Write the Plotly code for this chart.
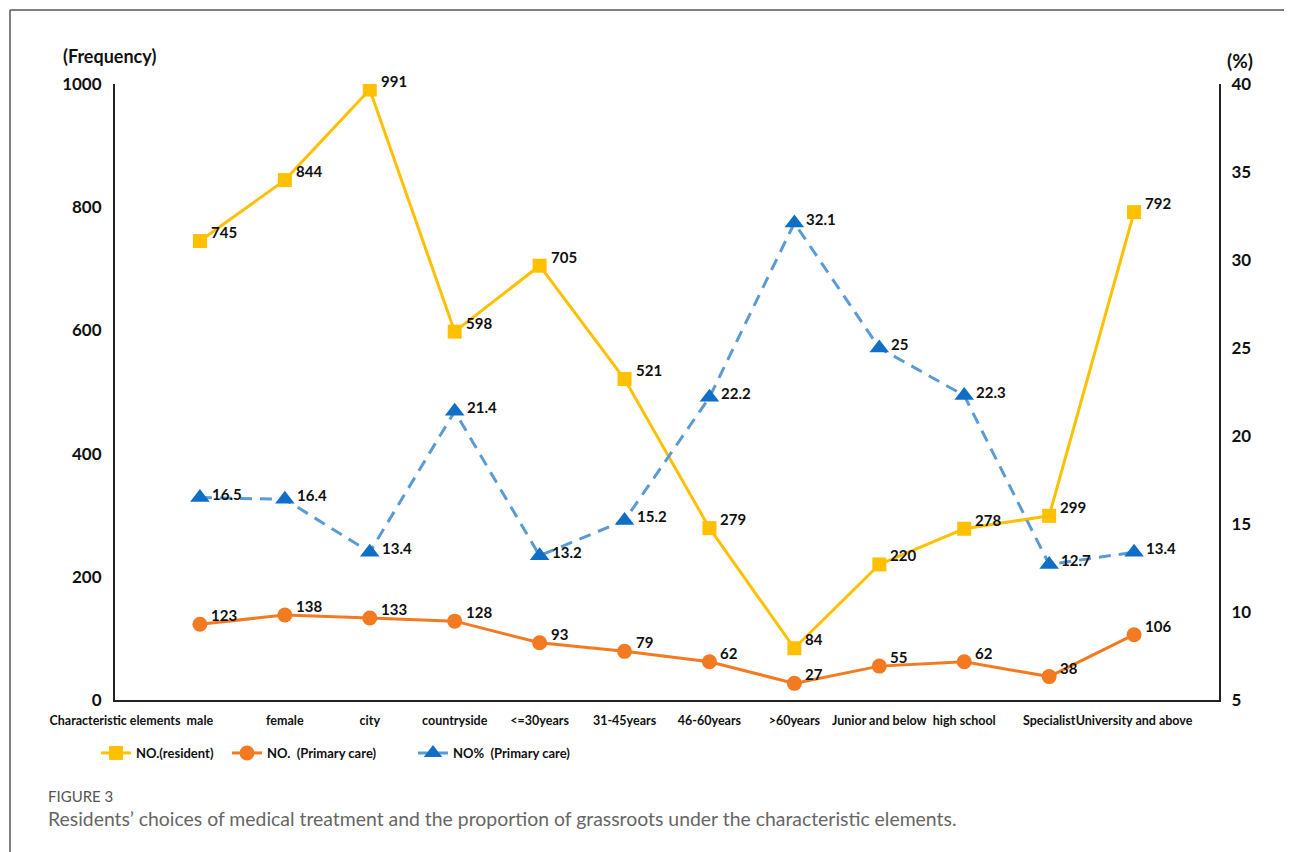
import plotly.graph_objects as go

categories = ["Characteristic elements", "male", "female", "city", "countryside", "<=30years",
              "31-45years", "46-60years", ">60years", "Junior and below", "high school",
              "Specialist", "University and above"]
data_categories = categories[1:]
resident = [745, 844, 991, 598, 705, 521, 279, 84, 220, 278, 299, 792]
primary = [123, 138, 133, 128, 93, 79, 62, 27, 55, 62, 38, 106]
percent = [16.5, 16.4, 13.4, 21.4, 13.2, 15.2, 22.2, 32.1, 25, 22.3, 12.7, 13.4]
left_ticks = [0, 200, 400, 600, 800, 1000]
right_ticks = [5, 10, 15, 20, 25, 30, 35, 40]

# page body has an 8px margin; figure is placed at (8, 8)
OFF = 8
W, H = 1292 - OFF, 852 - OFF
L, R, T, B = 115, 1219, 84, 700  # plot area in screen pixels

def px_x(p):
    return (p - L) / (R - L)

def px_y(p):
    return (B - p) / (B - T)

YELLOW = "#FFC000"
ORANGE = "#F47A22"
BLUE_LINE = "#5B9BD5"
BLUE_MARK = "#0F6FC6"
FONT = "Lato"

fig = go.Figure()
fig.add_trace(go.Scatter(
    x=data_categories, y=resident, name="NO.(resident)", mode="lines+markers",
    line=dict(color=YELLOW, width=3), marker=dict(symbol="square", size=14, color=YELLOW),
    legend="legend"))
fig.add_trace(go.Scatter(
    x=data_categories, y=primary, name="NO.  (Primary care)", mode="lines+markers",
    line=dict(color=ORANGE, width=3), marker=dict(symbol="circle", size=15, color=ORANGE),
    legend="legend2"))
fig.add_trace(go.Scatter(
    x=data_categories, y=percent, name="NO%  (Primary care)", mode="lines+markers", yaxis="y2",
    line=dict(color=BLUE_LINE, width=3, dash="12px,8px"),
    marker=dict(symbol="triangle-up", size=17, color=BLUE_MARK),
    legend="legend3"))

ann = []
def fmt(v):
    return f"{v:g}"
for cat, v in zip(data_categories, resident):
    ann.append(dict(x=cat, y=v, xref="x", yref="y", text=fmt(v), showarrow=False,
                    xanchor="left", yanchor="middle", xshift=9, yshift=9,
                    font=dict(family=FONT, size=15, color="#111", weight="bold")))
for cat, v in zip(data_categories, primary):
    ann.append(dict(x=cat, y=v, xref="x", yref="y", text=fmt(v), showarrow=False,
                    xanchor="left", yanchor="middle", xshift=9, yshift=9,
                    font=dict(family=FONT, size=15, color="#111", weight="bold")))
for cat, v in zip(data_categories, percent):
    ann.append(dict(x=cat, y=v, xref="x", yref="y2", text=fmt(v), showarrow=False,
                    xanchor="left", yanchor="middle", xshift=10, yshift=4,
                    font=dict(family=FONT, size=15, color="#111", weight="bold")))

ann.append(dict(x=px_x(109), y=px_y(56), xref="paper", yref="paper", text="(Frequency)",
                showarrow=False, xanchor="center", yanchor="middle",
                font=dict(family=FONT, size=18, color="#111", weight="bold")))
ann.append(dict(x=px_x(1240), y=px_y(61), xref="paper", yref="paper", text="(%)",
                showarrow=False, xanchor="center", yanchor="middle",
                font=dict(family=FONT, size=19, color="#111", weight="bold")))
ann.append(dict(x=px_x(46), y=px_y(796), xref="paper", yref="paper", text="FIGURE 3",
                showarrow=False, xanchor="left", yanchor="middle",
                font=dict(family=FONT, size=15, color="#555")))
ann.append(dict(x=px_x(46), y=px_y(818), xref="paper", yref="paper",
                text="Residents’ choices of medical treatment and the proportion of grassroots under the characteristic elements.",
                showarrow=False, xanchor="left", yanchor="middle",
                font=dict(family=FONT, size=19.4, color="#666")))

shapes = [
    dict(type="line", xref="paper", yref="paper", x0=px_x(10), x1=px_x(10), y0=px_y(10), y1=px_y(860),
         line=dict(color="#555", width=1.5)),
    dict(type="line", xref="paper", yref="paper", x0=px_x(10), x1=px_x(1300), y0=px_y(10), y1=px_y(10),
         line=dict(color="#555", width=1.5)),
]

legend_common = dict(orientation="h", yanchor="middle", y=px_y(753), xanchor="left",
                     bgcolor="rgba(0,0,0,0)", font=dict(family=FONT, size=13, color="#111", weight="bold"),
                     itemwidth=30)

fig.update_layout(
    width=W, height=H,
    paper_bgcolor="white", plot_bgcolor="white",
    margin=dict(l=L - OFF, r=W - (R - OFF), t=T - OFF, b=H - (B - OFF), autoexpand=False),
    font=dict(family=FONT, color="#111"),
    xaxis=dict(type="category", categoryorder="array", categoryarray=categories,
               tickvals=categories, range=[0, 13], showgrid=False, zeroline=False,
               showline=True, linecolor="#222", linewidth=2, ticks="", tickangle=0,
               ticklabelstandoff=8,
               tickfont=dict(family=FONT, size=12.5, color="#111", weight="bold")),
    yaxis=dict(range=[0, 1000], tickvals=left_ticks, showgrid=False, zeroline=False,
               showline=True, linecolor="#222", linewidth=2, ticks="", ticklabelstandoff=8,
               tickfont=dict(family=FONT, size=17, color="#111", weight="bold")),
    yaxis2=dict(range=[5, 40], tickvals=right_ticks, overlaying="y", side="right",
                showgrid=False, zeroline=False, showline=True, linecolor="#222", linewidth=2,
                ticks="", ticklabelstandoff=7,
                tickfont=dict(family=FONT, size=17, color="#111", weight="bold")),
    legend=dict(**legend_common, x=px_x(96)),
    legend2=dict(**legend_common, x=px_x(227)),
    legend3=dict(**legend_common, x=px_x(413)),
    annotations=ann,
    shapes=shapes,
    showlegend=True,
)

fig.write_html("out.html")
